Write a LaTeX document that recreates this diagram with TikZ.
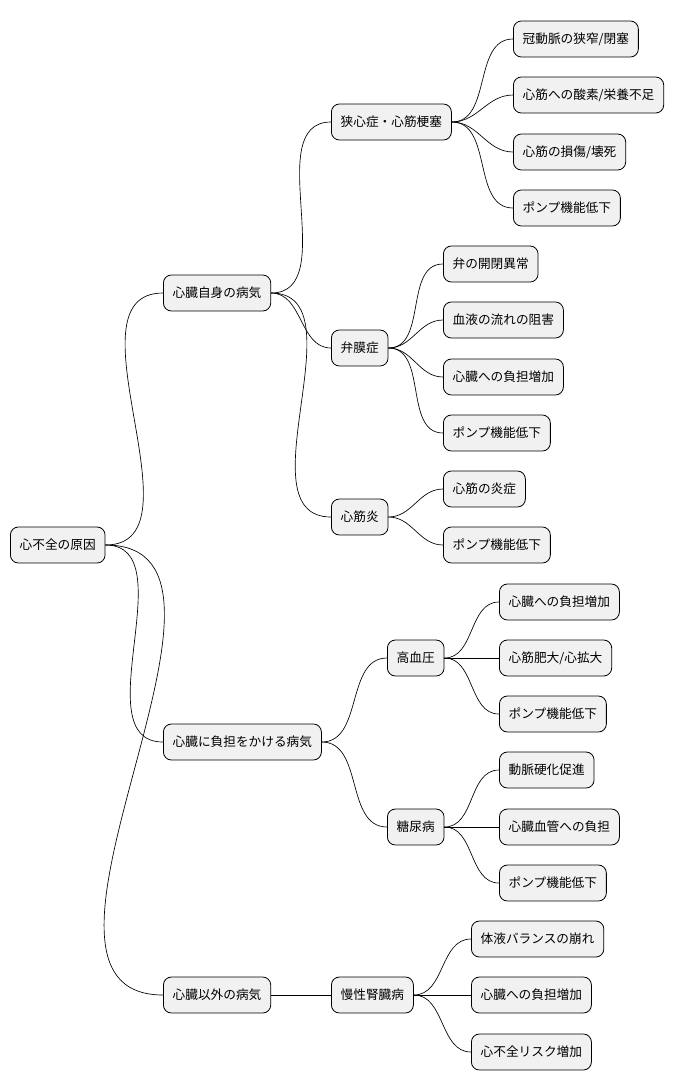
\documentclass[tikz,border=0pt]{standalone}
\usepackage{fontspec}
\setmainfont{Noto Sans CJK JP}
\usetikzlibrary{positioning}
\tikzset{
  item/.style={draw, fill=boxgrey, rounded corners=6pt, anchor=west, minimum height=27pt,
    inner xsep=7pt, font=\fontsize{9.5}{11}\selectfont, line width=0.6pt},
  link/.style={draw, line width=0.5pt}
}
\definecolor{boxgrey}{HTML}{F1F1F1}
\begin{document}
\begin{tikzpicture}[x=0.75pt, y=-0.75pt]
    \useasboundingbox (0,0) rectangle (689,1090);
    % root
    \node[item] (root) at (10,545) {心不全の原因};
    % first level
    \node[item] (self) at (163,293) {心臓自身の病気};
    \node[item] (load) at (163,742) {心臓に負担をかける病気};
    \node[item] (other) at (163,995) {心臓以外の病気};
    % second level
    \node[item] (angina) at (331,122) {狭心症・心筋梗塞};
    \node[item] (valve) at (331,348) {弁膜症};
    \node[item] (myo) at (331,517) {心筋炎};
    \node[item] (hyper) at (387,658) {高血圧};
    \node[item] (diab) at (387,827) {糖尿病};
    \node[item] (kidney) at (331,995) {慢性腎臓病};
    % leaves
    \node[item] (a1) at (513,39) {冠動脈の狭窄/閉塞};
    \node[item] (a2) at (513,95) {心筋への酸素/栄養不足};
    \node[item] (a3) at (513,152) {心筋の損傷/壊死};
    \node[item] (a4) at (513,208) {ポンプ機能低下};
    \node[item] (v1) at (443,264) {弁の開閉異常};
    \node[item] (v2) at (443,320) {血液の流れの阻害};
    \node[item] (v3) at (443,377) {心臓への負担増加};
    \node[item] (v4) at (443,433) {ポンプ機能低下};
    \node[item] (m1) at (443,489) {心筋の炎症};
    \node[item] (m2) at (443,545) {ポンプ機能低下};
    \node[item] (h1) at (499,602) {心臓への負担増加};
    \node[item] (h2) at (499,658) {心筋肥大/心拡大};
    \node[item] (h3) at (499,714) {ポンプ機能低下};
    \node[item] (d1) at (499,770) {動脈硬化促進};
    \node[item] (d2) at (499,827) {心臓血管への負担};
    \node[item] (d3) at (499,883) {ポンプ機能低下};
    \node[item] (k1) at (471,939) {体液バランスの崩れ};
    \node[item] (k2) at (471,995) {心臓への負担増加};
    \node[item] (k3) at (471,1052) {心不全リスク増加};
    % connectors
    \foreach \p/\c in {root/self, root/load, root/other,
        self/angina, self/valve, self/myo, load/hyper, load/diab, other/kidney,
        angina/a1, angina/a2, angina/a3, angina/a4,
        valve/v1, valve/v2, valve/v3, valve/v4, myo/m1, myo/m2,
        hyper/h1, hyper/h2, hyper/h3, diab/d1, diab/d2, diab/d3,
        kidney/k1, kidney/k2, kidney/k3}
      \draw[link] (\p.east) to[out=0, in=180] (\c.west);
\end{tikzpicture}
\end{document}
